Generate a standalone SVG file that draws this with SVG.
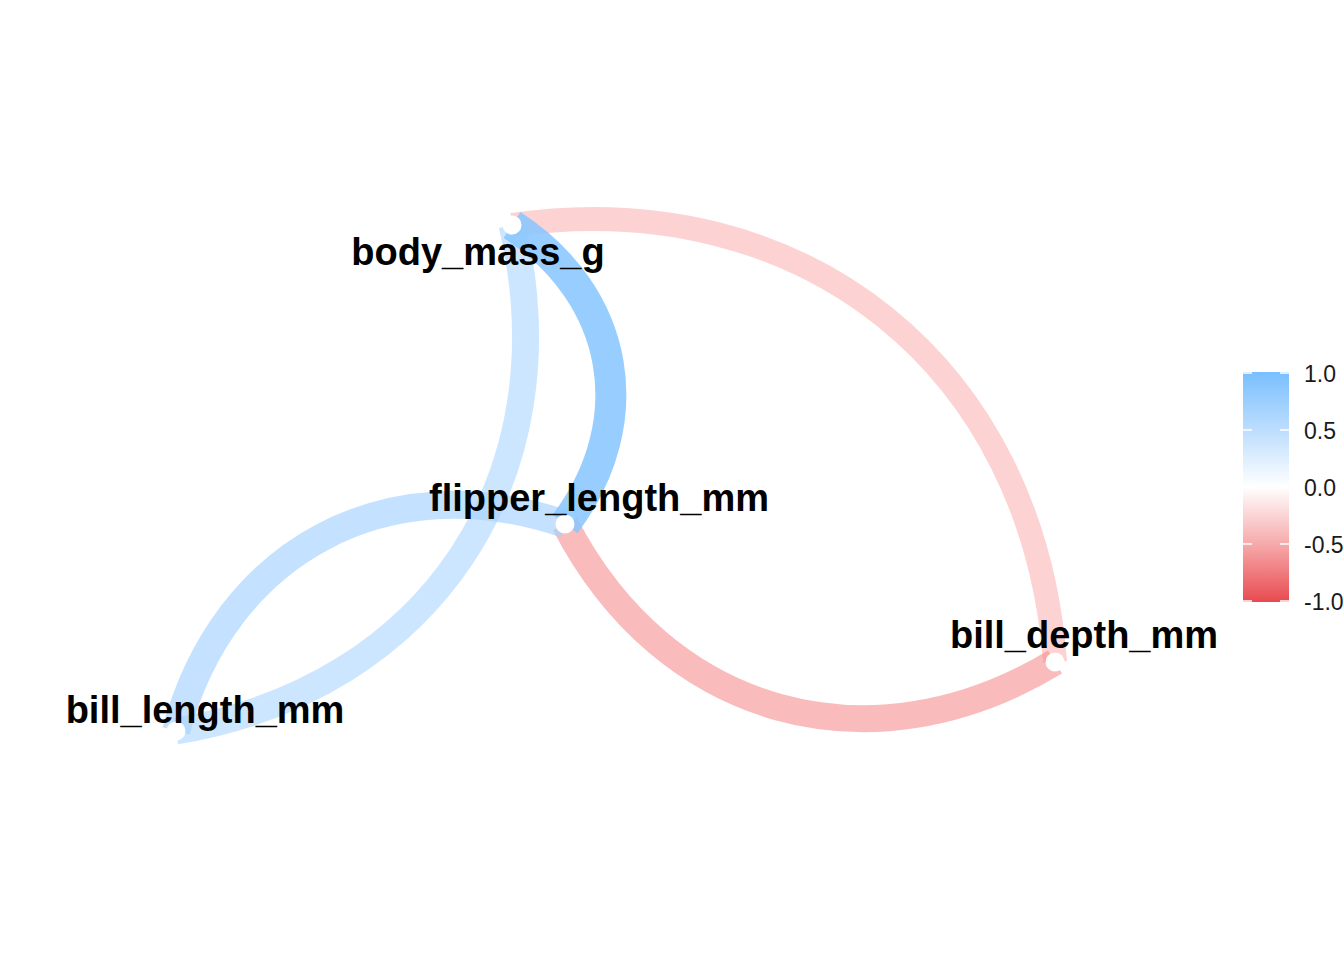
<svg xmlns="http://www.w3.org/2000/svg" width="1344" height="960" viewBox="0 0 1344 960">
<style>
.edge{fill:none;stroke-linecap:butt}
.node circle{fill:#ffffff}
.lbl{font-family:"Liberation Sans",Arial,sans-serif;font-weight:bold;font-size:38px;fill:#000000;text-anchor:middle}
.leg{font-family:"Liberation Sans",Arial,sans-serif;font-size:23px;fill:#1a1a1a}
.tick{stroke:#ffffff;stroke-width:1.5}
</style>
<defs>
<linearGradient id="grad" x1="0" y1="0" x2="0" y2="1">
<stop offset="0" stop-color="#79BFFF"/>
<stop offset="0.25" stop-color="#BCDDFE"/>
<stop offset="0.5" stop-color="#FFFFFF"/>
<stop offset="0.75" stop-color="#F6A9AA"/>
<stop offset="1" stop-color="#E84A50"/>
</linearGradient>
</defs>
<rect width="1344" height="960" fill="#ffffff"/>
<g id="connectors">
<path class="edge" d="M512,225 C805,183.4 1033,367 1055,662" stroke="rgb(251,160,160)" stroke-opacity="0.472" stroke-width="24"/>
<path class="edge" d="M565,524 C664.3,715.9 870.1,773.9 1055,662" stroke="rgb(245,139,139)" stroke-opacity="0.584" stroke-width="27"/>
<path class="edge" d="M512,225 C571.5,475.9 430.3,688.5 176,731" stroke="rgb(171,213,255)" stroke-opacity="0.595" stroke-width="27"/>
<path class="edge" d="M565,524 C388,463.4 224.6,550.4 176,731" stroke="rgb(165,211,255)" stroke-opacity="0.656" stroke-width="28"/>
<path class="edge" d="M512,225 C620.1,295.3 642.3,420.9 565,524" stroke="rgb(137,199,255)" stroke-opacity="0.87" stroke-width="31"/>
</g>
<g id="node-body_mass_g" class="node">
<circle cx="512" cy="225" r="9.5"/>
<text class="lbl" x="478" y="265">body_mass_g</text>
</g>
<g id="node-flipper_length_mm" class="node">
<circle cx="565" cy="524" r="9.5"/>
<text class="lbl" x="599" y="511">flipper_length_mm</text>
</g>
<g id="node-bill_length_mm" class="node">
<circle cx="176" cy="731" r="9.5"/>
<text class="lbl" x="205" y="723">bill_length_mm</text>
</g>
<g id="node-bill_depth_mm" class="node">
<circle cx="1055" cy="662" r="9.5"/>
<text class="lbl" x="1084" y="648">bill_depth_mm</text>
</g>
<g id="legend">
<rect x="1243" y="372" width="46" height="230" fill="url(#grad)"/>
<line class="tick" x1="1243" y1="373" x2="1252" y2="373"/><line class="tick" x1="1280" y1="373" x2="1289" y2="373"/>
<line class="tick" x1="1243" y1="430" x2="1252" y2="430"/><line class="tick" x1="1280" y1="430" x2="1289" y2="430"/>
<line class="tick" x1="1243" y1="487" x2="1252" y2="487"/><line class="tick" x1="1280" y1="487" x2="1289" y2="487"/>
<line class="tick" x1="1243" y1="544" x2="1252" y2="544"/><line class="tick" x1="1280" y1="544" x2="1289" y2="544"/>
<line class="tick" x1="1243" y1="601" x2="1252" y2="601"/><line class="tick" x1="1280" y1="601" x2="1289" y2="601"/>
<text class="leg" x="1304" y="382">1.0</text>
<text class="leg" x="1304" y="439">0.5</text>
<text class="leg" x="1304" y="496">0.0</text>
<text class="leg" x="1304" y="553">-0.5</text>
<text class="leg" x="1304" y="610">-1.0</text>
</g>
</svg>
